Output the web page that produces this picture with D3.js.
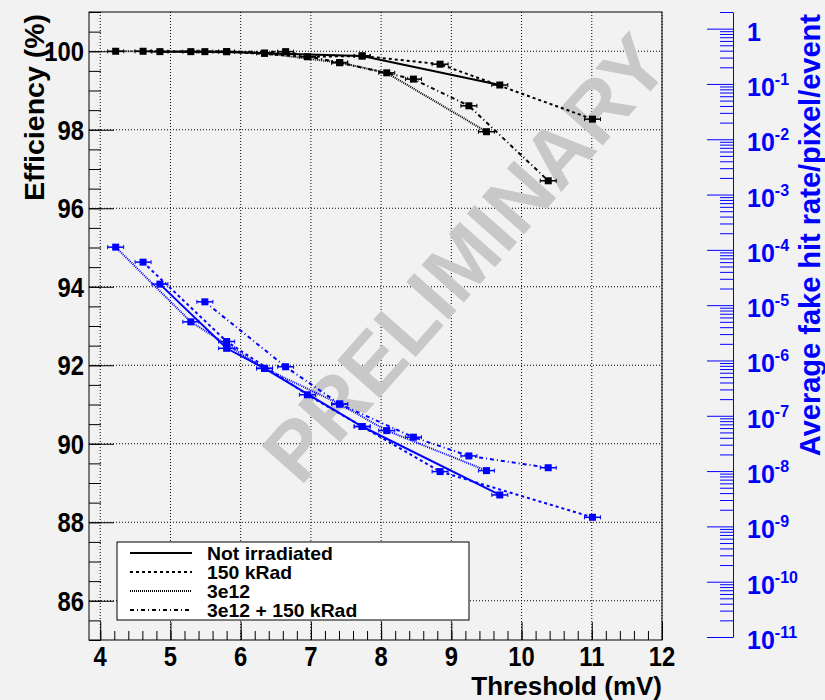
<!DOCTYPE html>
<html lang="en">
<head>
<meta charset="utf-8">
<title>Efficiency and fake hit rate vs threshold</title>
<script src="https://cdn.jsdelivr.net/npm/d3@7"></script>
<style>
 body { margin: 0; background: #f2f2f2; }
 text { font-family: "Liberation Sans", Arial, sans-serif; font-weight: bold; }
</style>
</head>
<body>
<script>
// series names (legend order)
const seriesNames = ['Not irradiated', '150 kRad', '3e12', '3e12 + 150 kRad'];

// Not irradiated
const thrNotIrr = [4.85, 5.80, 6.34, 7.73, 9.69];
const effNotIrr = [99.99, 99.99, 99.95, 99.88, 99.14];
const fakeNotIrr = [2.4e-5, 1.66e-6, 7.2e-7, 6.4e-8, 3.7e-9];

// 150 kRad
const thr150 = [4.61, 5.80, 6.95, 7.73, 8.84, 11.01];
const eff150 = [100.0, 99.99, 99.86, 99.88, 99.67, 98.27];
const fake150 = [6.0e-5, 2.2e-6, 2.4e-7, 6.4e-8, 9.8e-9, 1.46e-9];

// 3e12
const thr3e12 = [4.22, 5.29, 6.34, 7.41, 8.08, 9.50];
const eff3e12 = [100.0, 99.99, 99.95, 99.71, 99.45, 97.95];
const fake3e12 = [1.12e-4, 5.0e-6, 7.2e-7, 1.63e-7, 5.4e-8, 1.02e-8];

// 3e12 + 150 kRad
const thrBoth = [5.49, 6.64, 7.41, 8.46, 9.25, 10.38];
const effBoth = [99.99, 99.99, 99.71, 99.29, 98.61, 96.70];
const fakeBoth = [1.15e-5, 7.7e-7, 1.63e-7, 4.1e-8, 1.88e-8, 1.15e-8];

// tick labels
const xTicks = [4, 5, 6, 7, 8, 9, 10, 11, 12];
const yTicks = [86, 88, 90, 92, 94, 96, 98, 100];
const rExps = [0, -1, -2, -3, -4, -5, -6, -7, -8, -9, -10, -11];

const width = 825, height = 700;
const frame = {left: 89, right: 662, top: 12, bottom: 640};
const blue = '#0000ff';
const dashes = [null, '3,3', '1,1', '4,3,1,3'];

const x = d3.scaleLinear().domain([3.84, 12]).range([frame.left, frame.right]);
const y = d3.scaleLinear().domain([85, 101]).range([frame.bottom, frame.top]);
const yR = d3.scaleLog().domain([1e-11, 2]).range([637, 12]);

const svg = d3.select('body').append('svg')
    .attr('width', width).attr('height', height);

svg.append('rect').attr('width', width).attr('height', height).style('fill', '#f2f2f2');

// grid
const grid = svg.append('g').style('stroke', '#000').style('stroke-dasharray', '1,2');
grid.selectAll('.gx').data(xTicks).enter().append('line')
    .attr('x1', d => x(d)).attr('x2', d => x(d))
    .attr('y1', frame.top).attr('y2', frame.bottom);
grid.selectAll('.gy').data(yTicks).enter().append('line')
    .attr('x1', frame.left).attr('x2', frame.right)
    .attr('y1', d => y(d)).attr('y2', d => y(d));

// watermark
svg.append('text')
    .attr('transform', 'translate(465,258) rotate(-48.5)')
    .attr('text-anchor', 'middle')
    .attr('dominant-baseline', 'central')
    .style('font-size', '82px')
    .style('fill', '#c8c8c8')
    .text('PRELIMINARY');

// left axis ticks (inside)
function cleanAxis(g) {
    g.select('.domain').remove();
    g.selectAll('text').remove();
    g.selectAll('line').style('stroke', '#000');
}
svg.append('g').attr('transform', 'translate(' + frame.left + ',0)')
    .call(d3.axisLeft(y).tickValues(d3.range(85, 101.01, 0.5)).tickSize(-12)).call(cleanAxis);
svg.append('g').attr('transform', 'translate(' + frame.left + ',0)')
    .call(d3.axisLeft(y).tickValues(yTicks).tickSize(-25)).call(cleanAxis);

// bottom axis ticks (inside)
svg.append('g').attr('transform', 'translate(0,' + frame.bottom + ')')
    .call(d3.axisBottom(x).tickValues(d3.range(4, 12.01, 0.2)).tickSize(-9)).call(cleanAxis);
svg.append('g').attr('transform', 'translate(0,' + frame.bottom + ')')
    .call(d3.axisBottom(x).tickValues(xTicks).tickSize(-18)).call(cleanAxis);

// frame
svg.append('rect')
    .attr('x', frame.left).attr('y', frame.top)
    .attr('width', frame.right - frame.left).attr('height', frame.bottom - frame.top)
    .style('fill', 'none').style('stroke', '#000');

// left labels
svg.selectAll('.ylab').data(yTicks).enter().append('text')
    .attr('transform', d => 'translate(84,' + (y(d) + 10) + ') scale(0.85,1)')
    .attr('text-anchor', 'end')
    .style('font-size', '28px')
    .text(d => d);

// bottom labels
svg.selectAll('.xlab').data(xTicks).enter().append('text')
    .attr('transform', d => 'translate(' + x(d) + ',666) scale(0.85,1)')
    .attr('text-anchor', 'middle')
    .style('font-size', '28px')
    .text(d => d);

// titles
svg.append('text')
    .attr('x', frame.right).attr('y', 695)
    .attr('text-anchor', 'end')
    .style('font-size', '26px')
    .text('Threshold (mV)');

svg.append('text')
    .attr('transform', 'translate(44,14) rotate(-90)')
    .attr('text-anchor', 'end')
    .style('font-size', '28.5px')
    .text('Efficiency (%)');

// right log axis
let minors = [];
rExps.forEach(function (e) {
    for (let k = 2; k <= 9; k++) {
        let v = k * Math.pow(10, e);
        if (v <= 2) minors.push(v);
    }
});
const rightG = svg.append('g').attr('transform', 'translate(733,0)');
rightG.append('g')
    .call(d3.axisLeft(yR).tickValues(minors).tickSize(13).tickSizeOuter(0))
    .call(g => { g.selectAll('text').remove(); g.select('.domain').remove(); });
rightG.append('g')
    .call(d3.axisLeft(yR).tickValues(rExps.map(e => Math.pow(10, e))).tickSize(26).tickSizeOuter(0))
    .call(g => g.selectAll('text').remove());
rightG.selectAll('line, path').style('stroke', blue);

const rlab = svg.selectAll('.rlab').data(rExps).enter().append('text')
    .attr('x', 747)
    .attr('y', d => yR(Math.pow(10, d)) + 12)
    .style('font-size', '25px')
    .style('fill', blue)
    .text(d => d === 0 ? '1' : '10');
rlab.filter(d => d !== 0).append('tspan')
    .attr('dy', -11)
    .style('font-size', '16px')
    .text(d => '' + d);

svg.append('text')
    .attr('transform', 'translate(820,14) rotate(-90)')
    .attr('text-anchor', 'end')
    .style('font-size', '29px')
    .style('fill', blue)
    .text('Average fake hit rate/pixel/event');

// data
const thr = [thrNotIrr, thr150, thr3e12, thrBoth];
const eff = [effNotIrr, eff150, eff3e12, effBoth];
const fake = [fakeNotIrr, fake150, fake3e12, fakeBoth];

function drawSeries(xs, ys, yScale, color, dash) {
    const pts = xs.map((v, i) => [x(v), yScale(ys[i])]);
    svg.append('path')
        .attr('d', d3.line()(pts))
        .style('fill', 'none')
        .style('stroke', color)
        .style('stroke-width', 2)
        .style('stroke-dasharray', dash);
    const m = svg.append('g').selectAll('g').data(pts).enter().append('g')
        .attr('transform', d => 'translate(' + d[0] + ',' + d[1] + ')');
    m.append('line').attr('x1', -8).attr('x2', 8).style('stroke', color).style('stroke-width', 1.5);
    m.append('line').attr('x1', -8).attr('x2', -8).attr('y1', -2).attr('y2', 2).style('stroke', color);
    m.append('line').attr('x1', 8).attr('x2', 8).attr('y1', -2).attr('y2', 2).style('stroke', color);
    m.append('rect').attr('x', -3.5).attr('y', -3.5).attr('width', 7).attr('height', 7).style('fill', color);
}

for (let s = 0; s < 4; s++) {
    drawSeries(thr[s], eff[s], y, '#000', dashes[s]);
    drawSeries(thr[s], fake[s], yR, blue, dashes[s]);
}

// legend
const leg = svg.append('g');
leg.append('rect')
    .attr('x', 117).attr('y', 542).attr('width', 352).attr('height', 78)
    .style('fill', '#fff').style('stroke', '#000');
seriesNames.forEach(function (name, i) {
    const cy = 553 + i * 19;
    leg.append('line')
        .attr('x1', 130).attr('x2', 192).attr('y1', cy).attr('y2', cy)
        .style('stroke', '#000').style('stroke-width', 2)
        .style('stroke-dasharray', dashes[i]);
    leg.append('text')
        .attr('transform', 'translate(207,' + (cy + 6.5) + ') scale(1.14,1.1)')
        .style('font-size', '17px')
        .text(name);
});
</script>
</body>
</html>
